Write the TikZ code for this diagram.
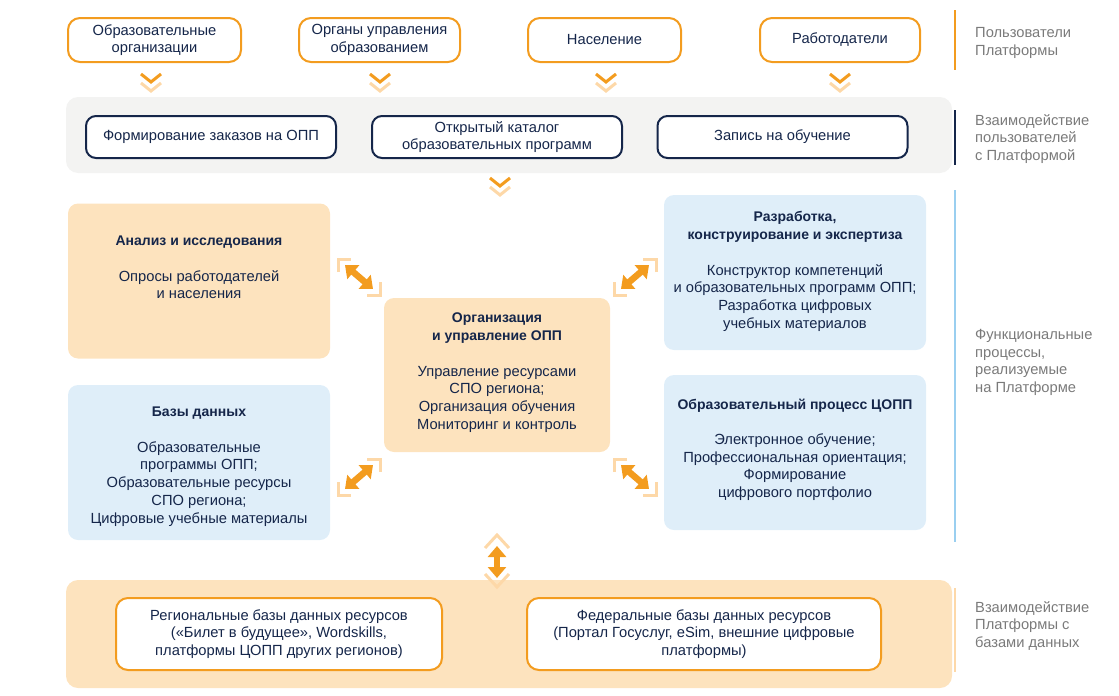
\documentclass[tikz,border=0pt]{standalone}
\usepackage{fontspec}
\setmainfont{Liberation Sans}
\usetikzlibrary{arrows.meta,calc}
\definecolor{navy}{HTML}{15264A}
\definecolor{org}{HTML}{F39C1F}
\definecolor{orgfill}{HTML}{FDE3BE}
\definecolor{orglight}{HTML}{FDD8A8}
\definecolor{bluefill}{HTML}{DFEEF9}
\definecolor{blueline}{HTML}{9ACFF0}
\definecolor{grayfill}{HTML}{F3F3F2}
\definecolor{graytext}{HTML}{7A7A7A}
\newcommand{\ttl}[1]{{\bfseries\fontsize{14}{17.7}\selectfont #1}}
\begin{document}
\begin{tikzpicture}[x=1pt,y=-1pt,
  every node/.style={font=\fontsize{14.7}{17.7}\selectfont, text=navy, align=center, inner sep=0pt},
  userbox/.style={draw=org, line width=2pt, fill=white, rounded corners=12pt, minimum height=44pt},
  panelbox/.style={draw=navy, line width=2pt, fill=white, rounded corners=10pt, minimum height=42pt, minimum width=250pt},
  dbbox/.style={draw=org, line width=2pt, fill=white, rounded corners=12pt, minimum height=72pt},
  panel/.style={rounded corners=12pt, minimum width=886pt},
  obox/.style={fill=orgfill, rounded corners=10pt, minimum width=262pt, minimum height=155pt},
  bbox/.style={fill=bluefill, rounded corners=10pt, minimum width=262pt, minimum height=155pt},
  content/.style={anchor=north},
  side/.style={anchor=north west, align=left, text=graytext},
  sideline/.style={line width=2.5pt},
  dbl/.style={draw=org, line width=6.5pt, {Triangle[length=11pt,width=18pt]}-{Triangle[length=11pt,width=18pt]}},
  brk/.style={draw=orglight, line width=3pt},
  chevd/.style={draw=org, line width=3pt},
  chevl/.style={draw=orglight, line width=3pt},
  chev/.pic={\draw[chevd] (-10,0)--(0,8)--(10,0); \draw[chevl] (-10,9)--(0,17)--(10,9);},
  brkNW/.pic={\draw[brk] (0,13)--(0,0)--(13,0);},
  brkNE/.pic={\draw[brk] (0,13)--(0,0)--(-13,0);},
  brkSW/.pic={\draw[brk] (0,-13)--(0,0)--(13,0);},
  brkSE/.pic={\draw[brk] (0,-13)--(0,0)--(-13,0);},
  brkN/.pic={\draw[brk] (-12,13)--(0,0)--(12,13);},
  brkS/.pic={\draw[brk] (-12,-13)--(0,0)--(12,-13);}
]
\useasboundingbox (0,0) rectangle (1119,696);

% users
\node[userbox, minimum width=173pt] (u1) at (154.5,40) {Образовательные\\организации};
\node[userbox, minimum width=161pt] (u2) at (379.5,40) {Органы управления\\образованием};
\node[userbox, minimum width=153pt] (u3) at (604.5,40) {Население};
\node[userbox, minimum width=160pt] (u4) at (840,40) {Работодатели};

% gray panel
\node[panel, fill=grayfill, minimum height=76pt] (gp) at (509,135) {};
\node[panelbox] (p1) at (211,137) {Формирование заказов на ОПП};
\node[panelbox] (p2) at (497,137) {Открытый каталог\\образовательных программ};
\node[panelbox] (p3) at (782.5,137) {Запись на обучение};

\pic at (151,74) {chev};
\pic at (380,74) {chev};
\pic at (606,74) {chev};
\pic at (840,74) {chev};
\pic at (500,178) {chev};

% process boxes
\node[obox] (an) at (199,281) {};
\node[content] (ant) at (199,236) {\ttl{Анализ и исследования}\\[17.7pt]Опросы работодателей\\и населения};
\node[bbox] (db) at (199,462.5) {};
\node[content] (dbt) at (199,407) {\ttl{Базы данных}\\[17.7pt]Образовательные\\программы ОПП;\\Образовательные ресурсы\\СПО региона;\\Цифровые учебные материалы};
\node[obox, minimum width=226pt, minimum height=154pt] (ce) at (497,375) {};
\node[content] (cet) at (497,313) {\ttl{Организация}\\\ttl{и управление ОПП}\\[17.7pt]Управление ресурсами\\СПО региона;\\Организация обучения\\Мониторинг и контроль};
\node[bbox] (rz) at (795,272.5) {};
\node[content] (rzt) at (795,211.5) {\ttl{Разработка,}\\\ttl{конструирование и экспертиза}\\[17.7pt]Конструктор компетенций\\и образовательных программ ОПП;\\Разработка цифровых\\учебных материалов};
\node[bbox] (ob) at (795,452.5) {};
\node[content] (obt) at (795,398.5) {\ttl{Образовательный процесс ЦОПП}\\[17.7pt]Электронное обучение;\\Профессиональная ориентация;\\Формирование\\цифрового портфолио};

% diagonal arrows
\coordinate (a1s) at (345,265); \coordinate (a1e) at (373,289);
\coordinate (a2s) at (621,289); \coordinate (a2e) at (649,265);
\coordinate (a3s) at (345,489); \coordinate (a3e) at (373,465);
\coordinate (a4s) at (621,465); \coordinate (a4e) at (649,489);
\draw[dbl] (a1s) -- (a1e);
\draw[dbl] (a2s) -- (a2e);
\draw[dbl] (a3s) -- (a3e);
\draw[dbl] (a4s) -- (a4e);
\pic at (338,259) {brkNW}; \pic at (380,295) {brkSE};
\pic at (656,259) {brkNE}; \pic at (614,295) {brkSW};
\pic at (380,459) {brkNE}; \pic at (338,495) {brkSW};
\pic at (614,459) {brkNW}; \pic at (656,495) {brkSE};

% bottom panel
\node[panel, fill=orgfill, minimum height=108pt] (bp) at (509,634) {};
\node[dbbox, minimum width=326pt] (bl) at (279,634) {Региональные базы данных ресурсов\\(«Билет в будущее», Wordskills,\\платформы ЦОПП других регионов)};
\node[dbbox, minimum width=354pt] (br) at (704,634) {Федеральные базы данных ресурсов\\(Портал Госуслуг, eSim, внешние цифровые\\платформы)};

% vertical arrow
\coordinate (vs) at (497,546); \coordinate (ve) at (497,578);
\draw[dbl] (vs) -- (ve);
\pic at (497,535) {brkN};
\pic at (497,587) {brkS};

% side labels
\draw[sideline, draw=org] (955,10) -- (955,70);
\node[side] (s1) at (975,27) {Пользователи\\Платформы};
\draw[sideline, draw=navy] (955,110) -- (955,165);
\node[side] (s2) at (975,114) {Взаимодействие\\пользователей\\с Платформой};
\draw[sideline, draw=blueline] (955,190) -- (955,542);
\node[side] (s3) at (975,329) {Функциональные\\процессы,\\реализуемые\\на Платформе};
\draw[sideline, draw=orglight] (955,588) -- (955,672);
\node[side] (s4) at (975,601) {Взаимодействие\\Платформы с\\базами данных};
\end{tikzpicture}
\end{document}
